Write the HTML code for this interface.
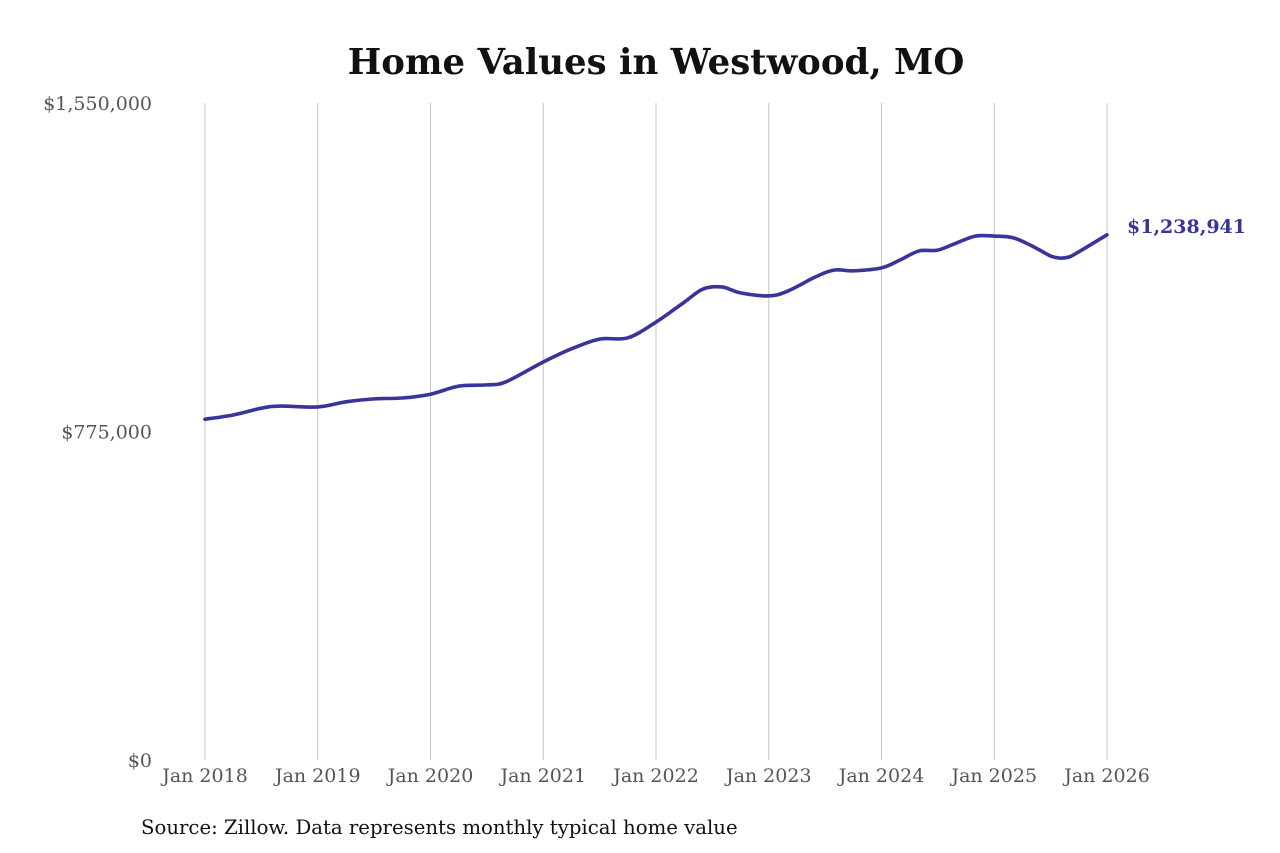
<!DOCTYPE html>
<html><head><meta charset="utf-8">
<style>
html,body{margin:0;padding:0;background:#fff;}
svg{display:block;font-family:"DejaVu Serif","Liberation Serif",serif;}
</style></head>
<body>
<svg id="chart" width="1280" height="853" viewBox="0 0 1280 853">
<text x="656" y="74" text-anchor="middle" font-size="35.5" font-weight="bold" fill="#111">Home Values in Westwood, MO</text>
<g id="grid"></g>
<g id="yax"></g>
<g id="xax"></g>
<g id="series"></g>
<text x="141" y="834" font-size="19.7" fill="#111">Source: Zillow. Data represents monthly typical home value</text>
</svg>
<script>
const months = [0,3,6,8,12,15,18,21,24,27,30,32,36,39,42,45,48,51,53,55,57,60,62,65,67,69,72,74,76,78,80,82,84,86,88,90,91,92,93,96];
const values = [804000,814000,830000,835000,833000,845000,852000,854000,863000,882000,885000,892000,939000,970000,993000,996000,1033000,1080000,1111000,1116000,1102000,1095000,1106000,1140000,1156000,1154000,1161000,1180000,1201000,1203000,1220000,1236000,1236000,1232000,1213000,1189000,1184000,1187000,1199000,1238941];
const yTicks = [0,775000,1550000];
const yTickLabels = ["$0","$775,000","$1,550,000"];
const xTickMonths = [0,12,24,36,48,60,72,84,96];
const xTickLabels = ["Jan 2018","Jan 2019","Jan 2020","Jan 2021","Jan 2022","Jan 2023","Jan 2024","Jan 2025","Jan 2026"];
const lastLabel = "$1,238,941";

const NS="http://www.w3.org/2000/svg";
const X0=205,X1=1107,Y0=760,Y1=103;
const xs=m=>X0+(m/96)*(X1-X0);
const ys=v=>Y0-(v/1550000)*(Y0-Y1);
function mk(tag,attrs,parent){const e=document.createElementNS(NS,tag);for(const k in attrs)e.setAttribute(k,attrs[k]);parent.appendChild(e);return e;}
const grid=document.getElementById('grid'),yax=document.getElementById('yax'),xax=document.getElementById('xax'),ser=document.getElementById('series');
xTickMonths.forEach((m,i)=>{
  const l=mk('line',{x1:xs(m),x2:xs(m),y1:Y1,y2:Y0,stroke:'#c4c4c4','stroke-width':1},grid);
  
  
  const t=mk('text',{x:xs(m),y:782,'text-anchor':'middle','font-size':19,fill:'#555'},xax);
  t.textContent=xTickLabels[i];
  
  
});
yTicks.forEach((v,i)=>{
  const t=mk('text',{x:152,y:ys(v)+7,'text-anchor':'end','font-size':19,fill:'#555'},yax);
  t.textContent=yTickLabels[i];
  
  
});
const pts=months.map((m,i)=>[xs(m),ys(values[i])]);
let d=`M${pts[0][0]},${pts[0][1]}`;
for(let i=0;i<pts.length-1;i++){
  const p0=pts[Math.max(0,i-1)],p1=pts[i],p2=pts[i+1],p3=pts[Math.min(pts.length-1,i+2)];
  const c1=[p1[0]+(p2[0]-p0[0])/6,p1[1]+(p2[1]-p0[1])/6];
  const c2=[p2[0]-(p3[0]-p1[0])/6,p2[1]-(p3[1]-p1[1])/6];
  d+=` C${c1[0]},${c1[1]} ${c2[0]},${c2[1]} ${p2[0]},${p2[1]}`;
}
const path=mk('path',{d:d,fill:'none',stroke:'#38349a','stroke-width':3.6,'stroke-linejoin':'round','stroke-linecap':'round'},ser);


const lp=pts[pts.length-1];
const lt=mk('text',{x:lp[0]+20,y:lp[1]-2,'font-size':19,'font-weight':'bold',fill:'#38349a'},ser);
lt.textContent=lastLabel;


</script>
</body></html>
